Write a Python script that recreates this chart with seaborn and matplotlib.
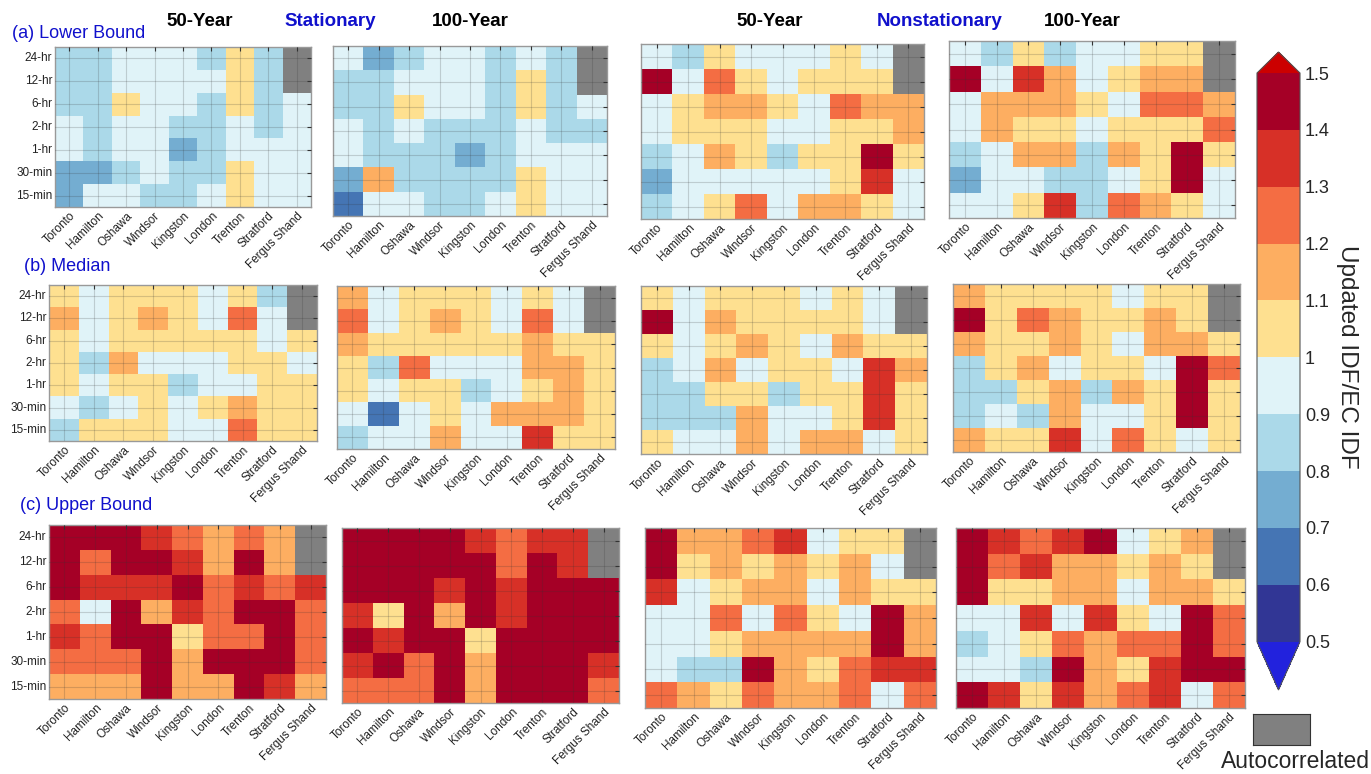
"""
Updated IDF / EC IDF ratio heatmaps (stationary vs nonstationary)
"""

import numpy as np
import pandas as pd
import matplotlib.pyplot as plt
import matplotlib.colors as mcolors
import seaborn as sns

nan = np.nan

STATIONS = ['Toronto', 'Hamilton', 'Oshawa', 'Windsor', 'Kingston',
            'London', 'Trenton', 'Stratford', 'Fergus Shand']
DURATIONS = ['24-hr', '12-hr', '6-hr', '2-hr', '1-hr', '30-min', '15-min']

# (a) Lower bound
lb_stat_50 = [
    [0.85, 0.85, 0.95, 0.95, 0.95, 0.85, 1.05, 0.85, nan],
    [0.85, 0.85, 0.95, 0.95, 0.95, 0.95, 1.05, 0.85, nan],
    [0.85, 0.85, 1.05, 0.95, 0.95, 0.85, 1.05, 0.85, 0.95],
    [0.95, 0.85, 0.95, 0.95, 0.85, 0.85, 0.95, 0.85, 0.95],
    [0.95, 0.85, 0.95, 0.95, 0.75, 0.85, 0.95, 0.95, 0.95],
    [0.75, 0.75, 0.85, 0.95, 0.85, 0.85, 1.05, 0.95, 0.95],
    [0.75, 0.95, 0.95, 0.85, 0.85, 0.95, 1.05, 0.95, 0.95],
]
lb_stat_100 = [
    [0.95, 0.75, 0.85, 0.95, 0.95, 0.85, 0.95, 0.85, nan],
    [0.85, 0.85, 0.95, 0.95, 0.95, 0.85, 1.05, 0.85, nan],
    [0.85, 0.85, 1.05, 0.95, 0.95, 0.85, 1.05, 0.85, 0.95],
    [0.95, 0.85, 0.95, 0.85, 0.85, 0.85, 0.95, 0.85, 0.85],
    [0.95, 0.85, 0.85, 0.85, 0.75, 0.85, 0.95, 0.95, 0.95],
    [0.75, 1.15, 0.85, 0.85, 0.85, 0.85, 1.05, 0.95, 0.95],
    [0.65, 0.95, 0.95, 0.85, 0.85, 0.95, 1.05, 0.95, 0.95],
]
lb_nonstat_50 = [
    [0.95, 0.85, 1.05, 0.95, 0.95, 0.95, 1.05, 0.95, nan],
    [1.45, 0.95, 1.25, 1.05, 0.95, 1.05, 1.05, 1.05, nan],
    [0.95, 1.05, 1.15, 1.15, 1.05, 0.95, 1.25, 1.15, 1.15],
    [0.95, 1.05, 1.05, 1.05, 0.95, 0.95, 1.05, 1.05, 1.15],
    [0.85, 0.95, 1.15, 1.05, 0.85, 1.05, 1.05, 1.45, 1.05],
    [0.75, 0.95, 0.95, 0.95, 0.95, 0.95, 1.05, 1.35, 0.95],
    [0.85, 0.95, 1.05, 1.25, 0.95, 1.15, 1.15, 1.05, 0.95],
]
lb_nonstat_100 = [
    [0.95, 0.85, 1.05, 0.85, 0.95, 0.95, 1.05, 1.05, nan],
    [1.45, 0.95, 1.35, 1.15, 0.95, 1.05, 1.15, 1.15, nan],
    [0.95, 1.15, 1.15, 1.15, 1.05, 0.95, 1.25, 1.25, 1.15],
    [0.95, 1.15, 1.05, 1.05, 0.95, 1.05, 1.05, 1.05, 1.25],
    [0.85, 0.95, 1.15, 1.15, 0.85, 1.15, 1.05, 1.45, 1.05],
    [0.75, 0.95, 0.95, 0.85, 0.85, 0.95, 1.05, 1.45, 0.95],
    [0.95, 0.95, 1.05, 1.35, 0.85, 1.25, 1.15, 1.05, 0.95],
]

# (b) Median
med_stat_50 = [
    [1.05, 0.95, 1.05, 1.05, 1.05, 0.95, 1.05, 0.85, nan],
    [1.15, 0.95, 1.05, 1.15, 1.05, 0.95, 1.25, 0.95, nan],
    [1.05, 0.95, 1.05, 1.05, 1.05, 1.05, 1.05, 0.95, 1.05],
    [1.05, 0.85, 1.15, 0.95, 0.95, 0.95, 1.05, 1.05, 0.95],
    [1.05, 0.95, 1.05, 1.05, 0.85, 0.95, 0.95, 1.05, 1.05],
    [0.95, 0.85, 0.95, 1.05, 0.95, 1.05, 1.15, 1.05, 1.05],
    [0.85, 1.05, 1.05, 1.05, 0.95, 0.95, 1.25, 1.05, 1.05],
]
med_stat_100 = [
    [1.15, 0.95, 1.05, 1.05, 1.05, 0.95, 1.05, 0.95, nan],
    [1.25, 0.95, 1.05, 1.15, 1.05, 0.95, 1.25, 0.95, nan],
    [1.15, 1.05, 1.05, 1.05, 1.05, 1.05, 1.15, 1.05, 1.05],
    [1.05, 0.85, 1.25, 0.95, 0.95, 0.95, 1.15, 1.15, 1.05],
    [1.05, 0.95, 1.05, 1.05, 0.85, 0.95, 1.05, 1.15, 1.05],
    [0.95, 0.65, 0.95, 1.05, 0.95, 1.15, 1.15, 1.15, 1.05],
    [0.85, 0.95, 0.95, 1.15, 0.95, 0.95, 1.35, 1.05, 1.05],
]
med_nonstat_50 = [
    [1.05, 0.95, 1.05, 1.05, 1.05, 0.95, 1.05, 0.95, nan],
    [1.45, 0.95, 1.15, 1.05, 1.05, 1.05, 1.05, 0.95, nan],
    [1.05, 0.95, 1.05, 1.15, 1.05, 0.95, 1.15, 1.05, 1.05],
    [0.85, 0.95, 1.15, 0.95, 1.05, 1.05, 0.95, 1.35, 1.15],
    [0.85, 0.85, 1.05, 1.05, 0.85, 1.05, 1.05, 1.35, 1.05],
    [0.85, 0.85, 0.85, 1.15, 0.95, 0.95, 1.05, 1.35, 1.05],
    [1.05, 0.95, 0.95, 1.15, 0.95, 1.15, 1.15, 0.95, 1.05],
]
med_nonstat_100 = [
    [1.15, 1.05, 1.05, 1.05, 1.05, 0.95, 1.05, 1.05, nan],
    [1.45, 1.05, 1.25, 1.15, 1.05, 1.05, 1.15, 1.05, nan],
    [1.15, 1.05, 1.05, 1.15, 1.05, 0.95, 1.15, 1.15, 1.05],
    [0.85, 1.05, 1.15, 0.95, 1.05, 1.05, 0.95, 1.45, 1.25],
    [0.85, 0.85, 1.05, 1.15, 0.85, 1.15, 1.05, 1.45, 1.05],
    [0.85, 0.95, 0.85, 1.15, 0.95, 0.95, 1.05, 1.45, 1.05],
    [1.15, 1.05, 1.05, 1.35, 0.95, 1.25, 1.05, 0.95, 1.05],
]

# (c) Upper bound
ub_stat_50 = [
    [1.45, 1.45, 1.45, 1.35, 1.25, 1.15, 1.25, 1.15, nan],
    [1.45, 1.25, 1.45, 1.45, 1.35, 1.15, 1.45, 1.15, nan],
    [1.45, 1.35, 1.35, 1.35, 1.45, 1.25, 1.35, 1.25, 1.35],
    [1.25, 0.95, 1.45, 1.15, 1.35, 1.25, 1.45, 1.45, 1.25],
    [1.35, 1.25, 1.45, 1.45, 1.05, 1.25, 1.25, 1.45, 1.25],
    [1.25, 1.25, 1.25, 1.45, 1.15, 1.45, 1.45, 1.45, 1.25],
    [1.15, 1.15, 1.15, 1.45, 1.15, 1.15, 1.45, 1.35, 1.15],
]
ub_stat_100 = [
    [1.45, 1.45, 1.45, 1.45, 1.35, 1.25, 1.35, 1.35, nan],
    [1.45, 1.45, 1.45, 1.45, 1.45, 1.25, 1.45, 1.35, nan],
    [1.45, 1.45, 1.45, 1.35, 1.45, 1.35, 1.45, 1.45, 1.45],
    [1.35, 1.05, 1.45, 1.15, 1.45, 1.35, 1.45, 1.45, 1.45],
    [1.45, 1.35, 1.45, 1.45, 1.05, 1.45, 1.45, 1.45, 1.45],
    [1.35, 1.45, 1.25, 1.45, 1.15, 1.45, 1.45, 1.45, 1.35],
    [1.25, 1.25, 1.25, 1.45, 1.15, 1.45, 1.45, 1.45, 1.25],
]
ub_nonstat_50 = [
    [1.45, 1.15, 1.15, 1.25, 1.35, 0.95, 1.05, 1.05, nan],
    [1.45, 1.05, 1.15, 1.05, 1.15, 1.05, 1.15, 0.95, nan],
    [1.35, 0.95, 1.05, 1.15, 1.15, 0.95, 1.15, 1.05, 1.05],
    [0.95, 0.95, 1.25, 0.95, 1.25, 1.05, 0.95, 1.45, 1.15],
    [0.95, 0.95, 1.05, 1.15, 1.15, 1.15, 1.15, 1.45, 1.15],
    [0.95, 0.85, 0.85, 1.45, 1.15, 1.05, 1.25, 1.35, 1.35],
    [1.25, 1.15, 1.05, 1.25, 1.15, 1.15, 1.25, 0.95, 1.25],
]
ub_nonstat_100 = [
    [1.45, 1.35, 1.25, 1.35, 1.45, 0.95, 1.05, 1.15, nan],
    [1.45, 1.25, 1.35, 1.15, 1.15, 1.05, 1.15, 1.05, nan],
    [1.45, 1.05, 1.05, 1.15, 1.15, 0.95, 1.15, 1.15, 1.05],
    [0.95, 0.95, 1.35, 0.95, 1.35, 1.05, 0.95, 1.45, 1.25],
    [0.85, 0.95, 1.05, 1.25, 1.15, 1.25, 1.25, 1.45, 1.25],
    [0.95, 0.95, 0.85, 1.45, 1.15, 1.05, 1.35, 1.45, 1.45],
    [1.45, 1.35, 1.05, 1.35, 1.15, 1.25, 1.35, 0.95, 1.25],
]

PANELS = [
    [lb_stat_50, lb_stat_100, lb_nonstat_50, lb_nonstat_100],
    [med_stat_50, med_stat_100, med_nonstat_50, med_nonstat_100],
    [ub_stat_50, ub_stat_100, ub_nonstat_50, ub_nonstat_100],
]

# axes boxes in pixels: left, top, right, bottom
BOXES = [
    [(55, 47, 311, 207), (333, 46, 607, 216), (641, 44, 924, 219), (949, 41, 1235, 218)],
    [(49, 285, 317, 441), (337, 286, 615, 449), (641, 286, 927, 454), (953, 284, 1240, 452)],
    [(49, 525, 326, 699), (342, 528, 619, 703), (645, 528, 936, 708), (956, 528, 1245, 708)],
]

W, H = 1371, 774

COLORS = ['#313695', '#4575b4', '#74add1', '#abd9e9', '#e0f3f8',
          '#fee090', '#fdae61', '#f46d43', '#d73027', '#a50026']
bounds = np.round(np.arange(0.5, 1.51, 0.1), 2)
cmap = mcolors.ListedColormap(COLORS)
cmap.set_over('#cc0000')
cmap.set_under('#2222dd')
norm = mcolors.BoundaryNorm(bounds, cmap.N)

sns.set_style('white')
plt.rcParams['font.family'] = ['Liberation Sans', 'DejaVu Sans']

fig = plt.figure(figsize=(W / 100, H / 100), dpi=100)


def px_rect(box):
    l, t, r, b = box
    return [l / W, 1 - b / H, (r - l) / W, (b - t) / H]


for i, row in enumerate(PANELS):
    for j, data in enumerate(row):
        ax = fig.add_axes(px_rect(BOXES[i][j]))
        df = pd.DataFrame(data, index=DURATIONS, columns=STATIONS)
        sns.heatmap(df, ax=ax, cmap=cmap, norm=norm, cbar=False,
                    linewidths=0)
        ax.set_facecolor('#808080')
        ax.set_axisbelow(False)
        ax.grid(True, color='#333333', alpha=0.2, lw=0.8)
        ax.tick_params(direction='in', length=3, top=True, right=True,
                       color='#333333', labelsize=8.5, pad=2)
        ax.set_xticklabels(STATIONS, rotation=45, ha='right',
                           rotation_mode='anchor', color='#222222')
        if j == 0:
            ax.set_yticklabels(DURATIONS, rotation=0, color='#222222')
        else:
            ax.set_yticklabels([])
        for s in ax.spines.values():
            s.set_visible(True)
            s.set_color('#999999')
            s.set_linewidth(1.0)

# column headers
for x, txt, col in [(200, '50-Year', 'black'), (330, 'Stationary', '#1010cc'),
                    (470, '100-Year', 'black'), (770, '50-Year', 'black'),
                    (940, 'Nonstationary', '#1010cc'), (1082, '100-Year', 'black')]:
    fig.text(x / W, 1 - 21 / H, txt, ha='center', va='center',
             fontsize=13.5, fontweight='bold', color=col)

for x, y, txt in [(12, 33, '(a) Lower Bound'), (24, 267, '(b) Median'),
                  (20, 505, '(c) Upper Bound')]:
    fig.text(x / W, 1 - y / H, txt, ha='left', va='center',
             fontsize=13, color='#1010cc')

# colorbar (interior spans 1.5 -> 0.5, triangles outside)
cax = fig.add_axes(px_rect((1257, 52, 1300, 690)))
cb = fig.colorbar(plt.cm.ScalarMappable(norm=norm, cmap=cmap), cax=cax,
                  extend='both', extendfrac=(0.085, 0.037), ticks=bounds)
cb.ax.set_yticklabels([f'{b:g}' for b in bounds], fontsize=13)
cb.outline.set_edgecolor('#555555')
cb.ax.tick_params(direction='in', length=0)
fig.text(1347 / W, 1 - 357 / H, 'Updated IDF/EC IDF', rotation=270,
         ha='center', va='center', fontsize=17.5)

# autocorrelated legend box
lax = fig.add_axes(px_rect((1253, 714, 1310, 745)))
lax.set_facecolor('#808080')
lax.set_xticks([])
lax.set_yticks([])
for s in lax.spines.values():
    s.set_color('#333333')
fig.text(1295 / W, 1 - 762 / H, 'Autocorrelated', ha='center', va='center',
         fontsize=16.5)

fig.savefig('out.png', dpi=100)
